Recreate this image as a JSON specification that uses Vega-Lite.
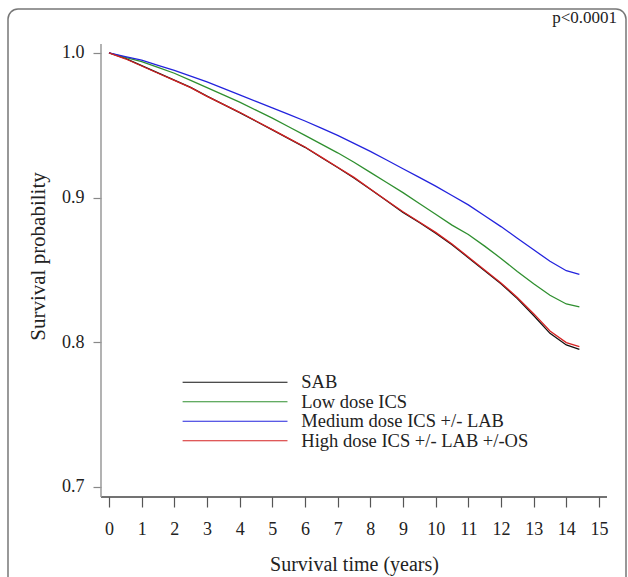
{
  "$schema": "https://vega.github.io/schema/vega-lite/v6.json",
  "width": 618,
  "height": 581,
  "autosize": {"type": "none"},
  "padding": {"left": 8, "top": 9, "right": 2, "bottom": 0},
  "background": "white",
  "config": {
    "view": {"stroke": "#777", "strokeWidth": 1.5, "cornerRadius": 10},
    "font": "Liberation Serif"
  },
  "title": {"text": "p<0.0001", "anchor": "end", "frame": "group", "orient": "top", "offset": -31, "baseline": "alphabetic", "fontSize": 17, "fontWeight": "normal", "font": "Liberation Serif", "color": "#222", "dx": -9},
  "layer": [
    {
      "data": {"values": [
        {"group": "SAB", "t": 0, "s": 1.0}, {"group": "SAB", "t": 0.5, "s": 0.9962}, {"group": "SAB", "t": 1, "s": 0.9912}, {"group": "SAB", "t": 1.5, "s": 0.9862}, {"group": "SAB", "t": 2, "s": 0.9812}, {"group": "SAB", "t": 2.5, "s": 0.9762}, {"group": "SAB", "t": 3, "s": 0.9702}, {"group": "SAB", "t": 3.5, "s": 0.9645}, {"group": "SAB", "t": 4, "s": 0.9588}, {"group": "SAB", "t": 4.5, "s": 0.9528}, {"group": "SAB", "t": 5, "s": 0.9468}, {"group": "SAB", "t": 5.5, "s": 0.9408}, {"group": "SAB", "t": 6, "s": 0.9348}, {"group": "SAB", "t": 6.5, "s": 0.9278}, {"group": "SAB", "t": 7, "s": 0.9208}, {"group": "SAB", "t": 7.5, "s": 0.9136}, {"group": "SAB", "t": 8, "s": 0.9058}, {"group": "SAB", "t": 8.5, "s": 0.8978}, {"group": "SAB", "t": 9, "s": 0.8898}, {"group": "SAB", "t": 9.5, "s": 0.8828}, {"group": "SAB", "t": 10, "s": 0.8755}, {"group": "SAB", "t": 10.5, "s": 0.8675}, {"group": "SAB", "t": 11, "s": 0.8585}, {"group": "SAB", "t": 11.5, "s": 0.8495}, {"group": "SAB", "t": 12, "s": 0.8405}, {"group": "SAB", "t": 12.5, "s": 0.8302}, {"group": "SAB", "t": 13, "s": 0.8185}, {"group": "SAB", "t": 13.5, "s": 0.8062}, {"group": "SAB", "t": 14, "s": 0.7982}, {"group": "SAB", "t": 14.4, "s": 0.7952},
        {"group": "Low dose ICS", "t": 0, "s": 1.0}, {"group": "Low dose ICS", "t": 0.5, "s": 0.997}, {"group": "Low dose ICS", "t": 1, "s": 0.994}, {"group": "Low dose ICS", "t": 1.5, "s": 0.99}, {"group": "Low dose ICS", "t": 2, "s": 0.986}, {"group": "Low dose ICS", "t": 2.5, "s": 0.981}, {"group": "Low dose ICS", "t": 3, "s": 0.976}, {"group": "Low dose ICS", "t": 3.5, "s": 0.971}, {"group": "Low dose ICS", "t": 4, "s": 0.966}, {"group": "Low dose ICS", "t": 4.5, "s": 0.9605}, {"group": "Low dose ICS", "t": 5, "s": 0.955}, {"group": "Low dose ICS", "t": 5.5, "s": 0.949}, {"group": "Low dose ICS", "t": 6, "s": 0.943}, {"group": "Low dose ICS", "t": 6.5, "s": 0.937}, {"group": "Low dose ICS", "t": 7, "s": 0.931}, {"group": "Low dose ICS", "t": 7.5, "s": 0.9245}, {"group": "Low dose ICS", "t": 8, "s": 0.9175}, {"group": "Low dose ICS", "t": 8.5, "s": 0.9105}, {"group": "Low dose ICS", "t": 9, "s": 0.9035}, {"group": "Low dose ICS", "t": 9.5, "s": 0.896}, {"group": "Low dose ICS", "t": 10, "s": 0.8885}, {"group": "Low dose ICS", "t": 10.5, "s": 0.881}, {"group": "Low dose ICS", "t": 11, "s": 0.8745}, {"group": "Low dose ICS", "t": 11.5, "s": 0.8665}, {"group": "Low dose ICS", "t": 12, "s": 0.858}, {"group": "Low dose ICS", "t": 12.5, "s": 0.849}, {"group": "Low dose ICS", "t": 13, "s": 0.8405}, {"group": "Low dose ICS", "t": 13.5, "s": 0.8325}, {"group": "Low dose ICS", "t": 14, "s": 0.8265}, {"group": "Low dose ICS", "t": 14.4, "s": 0.8245},
        {"group": "Medium dose ICS +/- LAB", "t": 0, "s": 1.0}, {"group": "Medium dose ICS +/- LAB", "t": 0.5, "s": 0.9975}, {"group": "Medium dose ICS +/- LAB", "t": 1, "s": 0.995}, {"group": "Medium dose ICS +/- LAB", "t": 1.5, "s": 0.9915}, {"group": "Medium dose ICS +/- LAB", "t": 2, "s": 0.988}, {"group": "Medium dose ICS +/- LAB", "t": 2.5, "s": 0.984}, {"group": "Medium dose ICS +/- LAB", "t": 3, "s": 0.98}, {"group": "Medium dose ICS +/- LAB", "t": 3.5, "s": 0.9755}, {"group": "Medium dose ICS +/- LAB", "t": 4, "s": 0.971}, {"group": "Medium dose ICS +/- LAB", "t": 4.5, "s": 0.9665}, {"group": "Medium dose ICS +/- LAB", "t": 5, "s": 0.962}, {"group": "Medium dose ICS +/- LAB", "t": 5.5, "s": 0.9575}, {"group": "Medium dose ICS +/- LAB", "t": 6, "s": 0.953}, {"group": "Medium dose ICS +/- LAB", "t": 6.5, "s": 0.948}, {"group": "Medium dose ICS +/- LAB", "t": 7, "s": 0.943}, {"group": "Medium dose ICS +/- LAB", "t": 7.5, "s": 0.9375}, {"group": "Medium dose ICS +/- LAB", "t": 8, "s": 0.932}, {"group": "Medium dose ICS +/- LAB", "t": 8.5, "s": 0.926}, {"group": "Medium dose ICS +/- LAB", "t": 9, "s": 0.92}, {"group": "Medium dose ICS +/- LAB", "t": 9.5, "s": 0.914}, {"group": "Medium dose ICS +/- LAB", "t": 10, "s": 0.908}, {"group": "Medium dose ICS +/- LAB", "t": 10.5, "s": 0.9015}, {"group": "Medium dose ICS +/- LAB", "t": 11, "s": 0.895}, {"group": "Medium dose ICS +/- LAB", "t": 11.5, "s": 0.8875}, {"group": "Medium dose ICS +/- LAB", "t": 12, "s": 0.88}, {"group": "Medium dose ICS +/- LAB", "t": 12.5, "s": 0.872}, {"group": "Medium dose ICS +/- LAB", "t": 13, "s": 0.864}, {"group": "Medium dose ICS +/- LAB", "t": 13.5, "s": 0.856}, {"group": "Medium dose ICS +/- LAB", "t": 14, "s": 0.8495}, {"group": "Medium dose ICS +/- LAB", "t": 14.4, "s": 0.847},
        {"group": "High dose ICS +/- LAB +/-OS", "t": 0, "s": 1.0}, {"group": "High dose ICS +/- LAB +/-OS", "t": 0.5, "s": 0.996}, {"group": "High dose ICS +/- LAB +/-OS", "t": 1, "s": 0.991}, {"group": "High dose ICS +/- LAB +/-OS", "t": 1.5, "s": 0.986}, {"group": "High dose ICS +/- LAB +/-OS", "t": 2, "s": 0.981}, {"group": "High dose ICS +/- LAB +/-OS", "t": 2.5, "s": 0.976}, {"group": "High dose ICS +/- LAB +/-OS", "t": 3, "s": 0.97}, {"group": "High dose ICS +/- LAB +/-OS", "t": 3.5, "s": 0.9645}, {"group": "High dose ICS +/- LAB +/-OS", "t": 4, "s": 0.959}, {"group": "High dose ICS +/- LAB +/-OS", "t": 4.5, "s": 0.953}, {"group": "High dose ICS +/- LAB +/-OS", "t": 5, "s": 0.947}, {"group": "High dose ICS +/- LAB +/-OS", "t": 5.5, "s": 0.941}, {"group": "High dose ICS +/- LAB +/-OS", "t": 6, "s": 0.935}, {"group": "High dose ICS +/- LAB +/-OS", "t": 6.5, "s": 0.928}, {"group": "High dose ICS +/- LAB +/-OS", "t": 7, "s": 0.921}, {"group": "High dose ICS +/- LAB +/-OS", "t": 7.5, "s": 0.914}, {"group": "High dose ICS +/- LAB +/-OS", "t": 8, "s": 0.906}, {"group": "High dose ICS +/- LAB +/-OS", "t": 8.5, "s": 0.898}, {"group": "High dose ICS +/- LAB +/-OS", "t": 9, "s": 0.8902}, {"group": "High dose ICS +/- LAB +/-OS", "t": 9.5, "s": 0.8832}, {"group": "High dose ICS +/- LAB +/-OS", "t": 10, "s": 0.876}, {"group": "High dose ICS +/- LAB +/-OS", "t": 10.5, "s": 0.868}, {"group": "High dose ICS +/- LAB +/-OS", "t": 11, "s": 0.859}, {"group": "High dose ICS +/- LAB +/-OS", "t": 11.5, "s": 0.85}, {"group": "High dose ICS +/- LAB +/-OS", "t": 12, "s": 0.841}, {"group": "High dose ICS +/- LAB +/-OS", "t": 12.5, "s": 0.831}, {"group": "High dose ICS +/- LAB +/-OS", "t": 13, "s": 0.8198}, {"group": "High dose ICS +/- LAB +/-OS", "t": 13.5, "s": 0.8078}, {"group": "High dose ICS +/- LAB +/-OS", "t": 14, "s": 0.7998}, {"group": "High dose ICS +/- LAB +/-OS", "t": 14.4, "s": 0.797}
      ]},
      "mark": {"type": "line", "strokeWidth": 1.3, "clip": true},
      "encoding": {
        "x": {
          "field": "t", "type": "quantitative",
          "scale": {"domain": [-3.092, 15.827], "nice": false, "zero": false},
          "axis": {
            "values": [0, 1, 2, 3, 4, 5, 6, 7, 8, 9, 10, 11, 12, 13, 14, 15],
            "offset": -93, "domain": false, "grid": false,
            "tickSize": 10, "tickColor": "#555", "tickWidth": 1.2,
            "labelFontSize": 18, "labelFont": "Liberation Serif", "labelColor": "#222", "labelPadding": 13,
            "title": "Survival time (years)", "titleFontSize": 20, "titleFont": "Liberation Serif", "titleFontWeight": "normal", "titleColor": "#222",
            "titleX": 346, "titleY": 67, "titleBaseline": "middle", "titleAlign": "center"
          }
        },
        "y": {
          "field": "s", "type": "quantitative",
          "scale": {"domain": [0.6288, 1.0304], "nice": false, "zero": false},
          "axis": {
            "values": [0.7, 0.8, 0.9, 1.0], "format": ".1f",
            "offset": -93, "domain": false, "grid": false,
            "tickSize": 8, "tickColor": "#888", "tickWidth": 1.2,
            "labelFontSize": 18, "labelFont": "Liberation Serif", "labelColor": "#222", "labelPadding": 9,
            "title": "Survival probability", "titleFontSize": 21, "titleFont": "Liberation Serif", "titleFontWeight": "normal", "titleColor": "#222",
            "titleX": -63, "titleY": 247, "titleAngle": 270, "titleBaseline": "middle", "titleAlign": "center"
          }
        },
        "color": {
          "field": "group", "type": "nominal",
          "scale": {
            "domain": ["SAB", "Low dose ICS", "Medium dose ICS +/- LAB", "High dose ICS +/- LAB +/-OS"],
            "range": ["#111111", "#2f8f2f", "#2323dd", "#d42222"]
          },
          "legend": {
            "orient": "none", "legendX": 217.8, "legendY": 364, "title": null, "padding": 0,
            "symbolType": "M-10,0H10", "symbolSize": 110, "symbolStrokeWidth": 1.2,
            "labelOffset": 57, "labelFontSize": 18.5, "labelFont": "Liberation Serif", "labelColor": "#222",
            "rowPadding": 0.5, "labelLimit": 400,
            "encode": {"symbols": {"update": {"stroke": {"scale": "color", "field": "value"}, "strokeWidth": {"value": 1.2}, "fill": {"value": "transparent"}}}}
          }
        }
      }
    },
    {
      "data": {"values": [{}]},
      "mark": {"type": "rule", "color": "#444", "strokeWidth": 1.3},
      "encoding": {
        "x": {"datum": -0.245, "type": "quantitative"},
        "x2": {"datum": 15.245},
        "y": {"datum": 0.6931, "type": "quantitative"}
      }
    },
    {
      "data": {"values": [{}]},
      "mark": {"type": "rule", "color": "#999", "strokeWidth": 1.5},
      "encoding": {
        "x": {"datum": -0.245, "type": "quantitative"},
        "y": {"datum": 0.6931, "type": "quantitative"},
        "y2": {"datum": 1.0062}
      }
    }
  ]
}
